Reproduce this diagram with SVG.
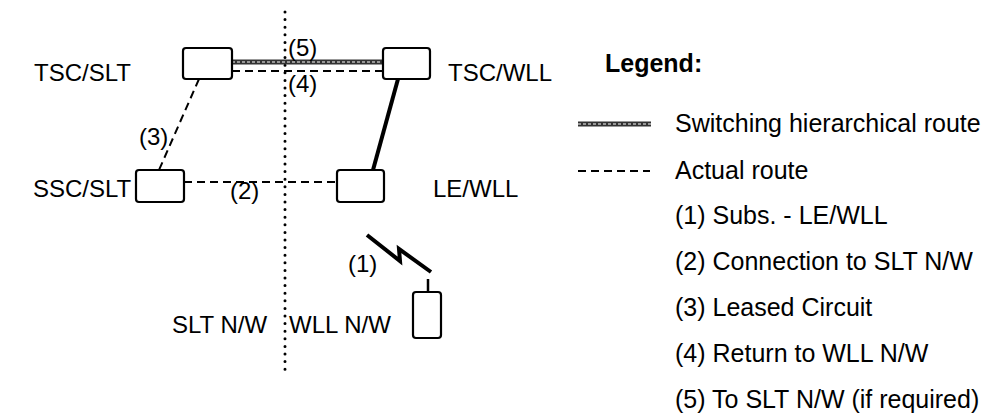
<svg xmlns="http://www.w3.org/2000/svg" width="993" height="415" viewBox="0 0 993 415">
<defs>
<style>
.t{font-family:"Liberation Sans",Arial,sans-serif;font-size:24px;fill:#000}
.l{font-size:25px}
.b{font-weight:bold}
.box{fill:#fff;stroke:#000;stroke-width:2.2}
.dash{fill:none;stroke:#000;stroke-width:2;stroke-dasharray:8 5}
.hier{fill:none;stroke:#333;stroke-width:5}
.hierin{fill:none;stroke:#bbb;stroke-width:1.4;stroke-dasharray:3 2}
.solid{fill:none;stroke:#000;stroke-width:4}
.dot{fill:none;stroke:#000;stroke-width:3;stroke-linecap:round;stroke-dasharray:0 7.6}
</style>
</defs>
<rect width="993" height="415" fill="#fff"/>
<g id="divider">
<line class="dot" x1="285" y1="12" x2="285" y2="374"/>
</g>
<g id="connectors">
<line class="hier" x1="232" y1="62" x2="383" y2="62"/>
<line class="hierin" x1="232" y1="62" x2="383" y2="62"/>
<line class="dash" x1="232" y1="71" x2="383" y2="71"/>
<line class="dash" x1="199" y1="79" x2="159" y2="170"/>
<line class="dash" x1="184" y1="182" x2="337" y2="182"/>
<line class="solid" x1="398" y1="79" x2="373" y2="170"/>
<polyline fill="none" stroke="#000" stroke-width="4" points="367,235 400,261 399,249 431,272"/>
<line stroke="#000" stroke-width="2.5" x1="428" y1="279" x2="428" y2="292"/>
</g>
<g id="tsc-slt">
<rect class="box" x="183" y="48" width="49" height="31" rx="3"/>
<text class="t" x="34" y="81">TSC/SLT</text>
</g>
<g id="tsc-wll">
<rect class="box" x="383" y="48" width="47" height="31" rx="3"/>
<text class="t" x="448" y="81">TSC/WLL</text>
</g>
<g id="ssc-slt">
<rect class="box" x="136" y="170" width="48" height="32" rx="3"/>
<text class="t" x="33" y="197">SSC/SLT</text>
</g>
<g id="le-wll">
<rect class="box" x="337" y="170" width="47" height="32" rx="3"/>
<text class="t" x="433" y="197">LE/WLL</text>
</g>
<g id="subscriber">
<rect class="box" x="413" y="292" width="28" height="46" rx="3"/>
</g>
<g id="labels">
<text class="t" x="288" y="56">(5)</text>
<text class="t" x="288" y="92">(4)</text>
<text class="t" x="139" y="145">(3)</text>
<text class="t" x="230" y="199">(2)</text>
<text class="t" x="348" y="272">(1)</text>
<text class="t" x="172" y="333">SLT N/W</text>
<text class="t" x="289" y="333">WLL N/W</text>
</g>
<g id="legend">
<text class="t l b" x="605" y="72">Legend:</text>
<line class="hier" x1="578" y1="124" x2="651" y2="124"/>
<line class="hierin" x1="578" y1="124" x2="651" y2="124"/>
<text class="t l" x="675" y="132">Switching hierarchical route</text>
<line class="dash" x1="578" y1="171" x2="650" y2="171"/>
<text class="t l" x="675" y="179">Actual route</text>
<text class="t l" x="675" y="224">(1) Subs. - LE/WLL</text>
<text class="t l" x="675" y="270">(2) Connection to SLT N/W</text>
<text class="t l" x="675" y="316">(3) Leased Circuit</text>
<text class="t l" x="675" y="362">(4) Return to WLL N/W</text>
<text class="t l" x="675" y="408">(5) To SLT N/W (if required)</text>
</g>
</svg>
